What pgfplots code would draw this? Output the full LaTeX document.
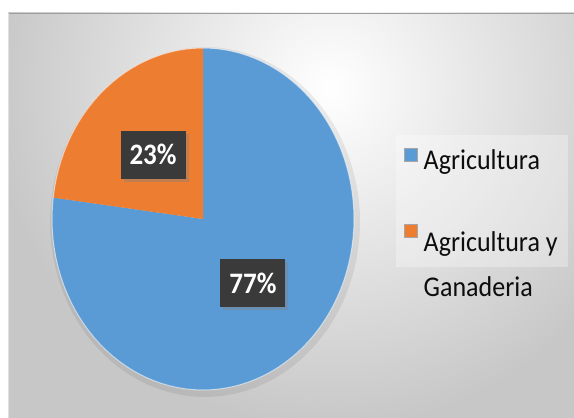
\documentclass[border=0pt]{standalone}
\usepackage{pgfplots}
\pgfplotsset{compat=1.18}
\usepackage{fontspec}
\setmainfont{Carlito}
\usepackage{graphicx}
\usetikzlibrary{shadows}

\definecolor{pieblue}{HTML}{5B9BD5}
\definecolor{pieorange}{HTML}{ED7D31}
\definecolor{labelbg}{HTML}{3A3A3A}

% shares (%)
\def\agri{77}
\def\gana{23}
% geometry of the pie in picture units (px)
\def\cx{203}\def\cy{199}\def\rx{151}\def\ry{171}

\begin{document}
\begin{tikzpicture}
\pgfmathsetmacro{\aEnd}{90+\gana*3.6}      % orange: 90 -> aEnd
\pgfmathsetmacro{\bEnd}{450}               % blue: aEnd -> 450
\pgfmathsetmacro{\midO}{90+\gana*1.8}
\pgfmathsetmacro{\midB}{\aEnd+\agri*1.8}
\begin{axis}[
    name=ax,
    width=574pt, height=418pt, scale only axis,
    xmin=0, xmax=574, ymin=0, ymax=418,
    axis lines=none, clip=false,
    legend cell align=left,
    legend style={at={(axis cs:396,283)}, anchor=north west,
        draw=none, fill=white, fill opacity=0.3, text opacity=1,
        font=\fontsize{26}{41}\selectfont, text=black!95,
        row sep=45pt, inner xsep=8pt, inner ysep=12pt},
    legend image code/.code={
        \fill[#1, fill opacity=1, draw=black!35, draw opacity=1, line width=0.5pt] (0pt,-1pt) rectangle (13pt,12pt);},
]
% chart area background
\fill[black!22] (axis cs:8,0) rectangle (axis cs:574,405);
\begin{scope}
  \clip (axis cs:8,0) rectangle (axis cs:574,405);
  \shade[inner color=white, outer color=black!22] (axis cs:330,330) circle (340pt);
\end{scope}
\draw[black!38, line width=1.5pt] (axis cs:8,404.5) -- (axis cs:574,404.5);
\draw[black!12, line width=1pt] (axis cs:8.5,0) -- (axis cs:8.5,405);

% soft shadow behind the pie
\addplot[forget plot, draw=none, fill=black, fill opacity=0.07, domain=0:360, samples=120, variable=\t]
    ({\cx+2+(\rx+4)*cos(\t)}, {\cy-3+(\ry+4)*sin(\t)});

% pie slices
\addplot[fill=pieblue, draw=none, domain=\aEnd:\bEnd, samples=120, variable=\t]
    ({\cx+\rx*cos(\t)}, {\cy+\ry*sin(\t)}) -- (axis cs:\cx,\cy) -- cycle;
\addlegendentry{\hspace{4pt}\scalebox{1}[1.1]{Agricultura}}
\addplot[fill=pieorange, draw=none, domain=90:\aEnd, samples=60, variable=\t]
    ({\cx+\rx*cos(\t)}, {\cy+\ry*sin(\t)}) -- (axis cs:\cx,\cy) -- cycle;
\addlegendentry{\hspace{4pt}\scalebox{1}[1.1]{\begin{tabular}[t]{@{}l@{}}Agricultura y\\Ganaderia\end{tabular}}}
% light rim
\addplot[forget plot, draw=white, draw opacity=0.55, line width=1pt, domain=0:360, samples=120, variable=\t]
    ({\cx+\rx*cos(\t)}, {\cy+\ry*sin(\t)});

% data labels
\tikzset{lbl/.style={fill=labelbg, text=white, minimum width=65pt, minimum height=48pt,
    inner sep=0pt, font=\bfseries\fontsize{27}{30}\selectfont,
    drop shadow={shadow xshift=3pt, shadow yshift=-3pt, opacity=0.4}}}
\node[lbl] at (axis cs:{\cx+0.5*\rx*cos(\midO)},{\cy+0.5*\ry*sin(\midO)}) {\scalebox{1}[1.1]{\gana\%}};
\node[lbl] at (axis cs:{\cx+0.5*\rx*cos(\midB)},{\cy+0.5*\ry*sin(\midB)}) {\scalebox{1}[1.1]{\agri\%}};
\end{axis}
\pgfresetboundingbox
\path (ax.south west) rectangle (ax.north east);
\end{tikzpicture}
\end{document}
